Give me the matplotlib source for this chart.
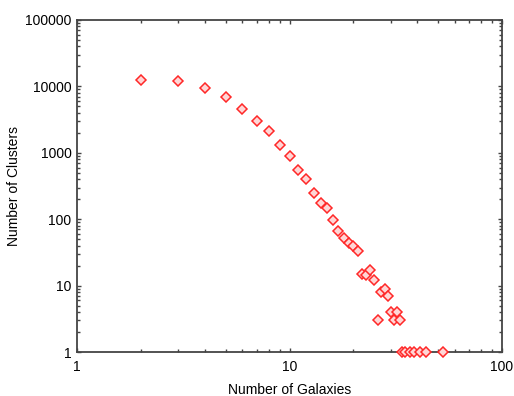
import numpy as np
import matplotlib
matplotlib.use("Agg")
import matplotlib.pyplot as plt
from matplotlib.ticker import LogLocator, FuncFormatter, NullFormatter

plt.rcParams['font.family'] = ['Liberation Sans', 'DejaVu Sans']

# number of galaxies per cluster vs number of clusters
galaxies = [2, 3, 4, 5, 6, 7, 8, 9, 10, 11, 12, 13, 14, 15, 16, 17, 18, 19, 20, 21,
            22, 23, 24, 25, 26, 27, 28, 29, 30, 31, 32, 33,
            34, 35, 37, 38.5, 41, 44, 53]
clusters = [12500, 12000, 9500, 7000, 4600, 3000, 2100, 1300, 900, 560, 410, 250, 175, 145,
            97, 67, 53, 44, 39, 33,
            15, 14.5, 17, 12, 3, 8, 9, 7, 4, 3, 4, 3,
            1, 1, 1, 1, 1, 1, 1]

fig = plt.figure(figsize=(5.14, 3.96), dpi=100)
ax = fig.add_axes([0.1498, 0.1111, 0.8269, 0.8384])

ax.plot(galaxies, clusters, linestyle='none', marker='D', markersize=4.6,
        markerfacecolor='#ffd6d6', markeredgecolor='#ff2828', markeredgewidth=1.1,
        clip_on=False, zorder=3)

ax.set_xscale('log')
ax.set_yscale('log')
ax.set_xlim(1, 100)
ax.set_ylim(1, 100000)

fmt = FuncFormatter(lambda v, p: f"{v:.0f}")
ax.xaxis.set_major_formatter(fmt)
ax.yaxis.set_major_formatter(fmt)
ax.xaxis.set_minor_formatter(NullFormatter())
ax.yaxis.set_minor_formatter(NullFormatter())
ax.xaxis.set_minor_locator(LogLocator(base=10, subs=np.arange(2, 10)))
ax.yaxis.set_minor_locator(LogLocator(base=10, subs=np.arange(2, 10)))

for s in ax.spines.values():
    s.set_color('#444444')
    s.set_linewidth(1.3)

ax.tick_params(which='both', direction='in', top=True, right=True, color='#444444')
ax.tick_params(which='major', length=3, width=1)
ax.tick_params(which='minor', length=2, width=1)
ax.tick_params(axis='x', which='major', pad=6, labelsize=10)
ax.tick_params(axis='y', which='major', pad=4, labelsize=10)

ax.set_xlabel("Number of Galaxies", fontsize=10, labelpad=6)
ax.set_ylabel("Number of Clusters", fontsize=10, labelpad=3)

fig.savefig("out.png", dpi=100)
